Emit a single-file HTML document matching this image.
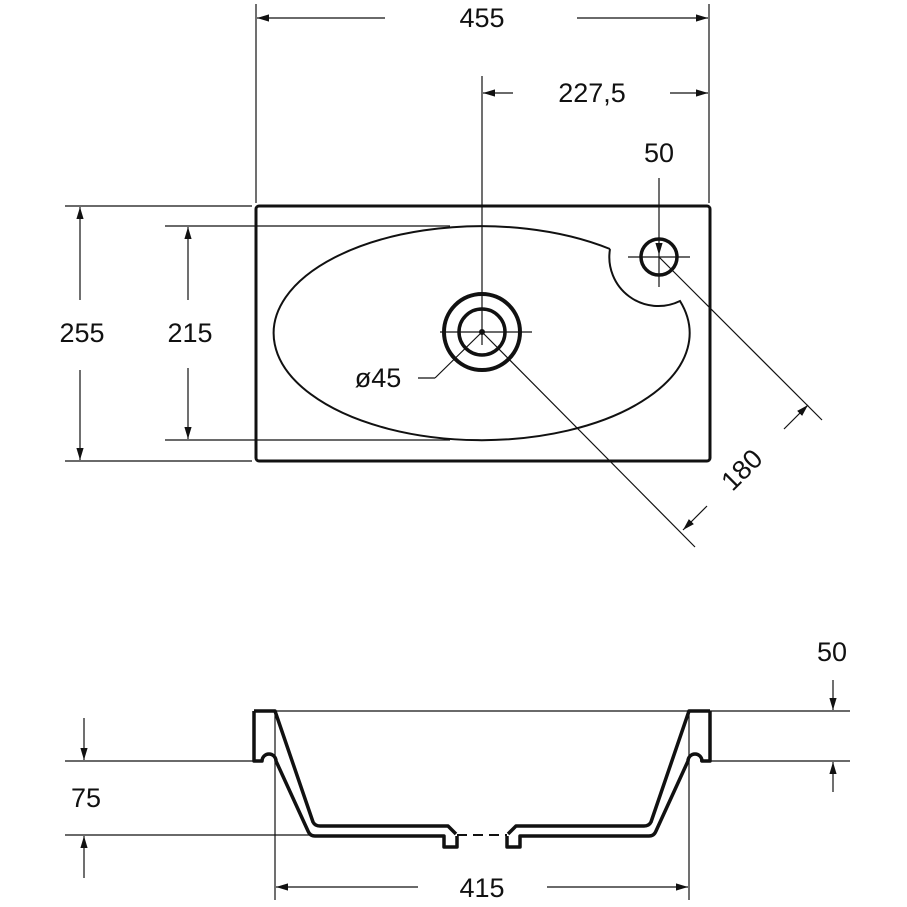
<!DOCTYPE html>
<html><head><style>body{margin:0;background:#fff}svg{display:block}text{font-family:"Liberation Sans",sans-serif;font-size:27px;fill:#111}</style></head><body>
<svg width="907" height="907" viewBox="0 0 907 907">
<defs><marker id="a" viewBox="0 0 10 10" refX="10" refY="5" markerWidth="12" markerHeight="12" markerUnits="userSpaceOnUse" orient="auto"><path d="M0,2 L10,5 L0,8z" fill="#111"/></marker></defs>
<g stroke="#111" stroke-width="1.2" fill="none">
<line x1="256" y1="4" x2="256" y2="203"/><line x1="709" y1="4" x2="709" y2="203"/>
<line x1="385" y1="18" x2="257" y2="18" marker-end="url(#a)"/><line x1="577" y1="18" x2="708" y2="18" marker-end="url(#a)"/>
<line x1="482" y1="76" x2="482" y2="345"/>
<line x1="513" y1="93" x2="483" y2="93" marker-end="url(#a)"/><line x1="670" y1="93" x2="708" y2="93" marker-end="url(#a)"/>
<line x1="659" y1="178" x2="659" y2="255" marker-end="url(#a)"/>
<line x1="659" y1="255" x2="659" y2="287"/>
<line x1="628" y1="257" x2="690" y2="257"/>
<line x1="65" y1="206" x2="252" y2="206"/><line x1="65" y1="461" x2="252" y2="461"/>
<line x1="80" y1="300" x2="80" y2="207" marker-end="url(#a)"/><line x1="80" y1="370" x2="80" y2="460" marker-end="url(#a)"/>
<line x1="165" y1="226" x2="450" y2="226"/><line x1="165" y1="440" x2="450" y2="440"/>
<line x1="188" y1="300" x2="188" y2="227" marker-end="url(#a)"/><line x1="188" y1="368" x2="188" y2="439" marker-end="url(#a)"/>
<line x1="440" y1="332" x2="532" y2="332"/>
<line x1="482" y1="332" x2="695" y2="547"/><line x1="659" y1="257" x2="822" y2="420"/>
<line x1="482" y1="332" x2="435" y2="378"/><line x1="435" y1="378" x2="418" y2="378"/>
<line x1="784" y1="429" x2="808" y2="405" marker-end="url(#a)"/>
<line x1="707" y1="506" x2="683" y2="530" marker-end="url(#a)"/>
<line x1="710" y1="711" x2="850" y2="711"/><line x1="700" y1="761" x2="850" y2="761"/>
<line x1="833" y1="680" x2="833" y2="710" marker-end="url(#a)"/><line x1="833" y1="792" x2="833" y2="762" marker-end="url(#a)"/>
<line x1="65" y1="761" x2="262" y2="761"/><line x1="65" y1="835" x2="310" y2="835"/>
<line x1="84" y1="718" x2="84" y2="760" marker-end="url(#a)"/><line x1="84" y1="878" x2="84" y2="836" marker-end="url(#a)"/>
<line x1="275" y1="711" x2="275" y2="900"/><line x1="689" y1="711" x2="689" y2="900"/>
<line x1="418" y1="887" x2="276" y2="887" marker-end="url(#a)"/><line x1="547" y1="887" x2="688" y2="887" marker-end="url(#a)"/>
<line x1="275" y1="711" x2="689" y2="711"/>
</g>
<g stroke="#111" fill="none">
<rect x="256" y="206" width="454" height="255" rx="3" stroke-width="3"/>
<path d="M610,249 A208,107 0 1 0 680,301 A49,49 0 0 1 610,249" stroke-width="2"/>
<circle cx="482" cy="332" r="38" stroke-width="4"/><circle cx="482" cy="332" r="23" stroke-width="3.5"/>
<circle cx="659" cy="257" r="18" stroke-width="3.5"/>
<path d="M254,711 H275 L313,822 Q315,826 320,826 L448,826 L456,834 M254,711 V761 H262 A7,7 0 0 1 276,761 L308,831 Q310,836 315,836 L444,836 V847 H457 V836" stroke-width="3.5" stroke-linejoin="round"/>
<path d="M710,711 H689 L651,822 Q649,826 644,826 L516,826 L508,834 M710,711 V761 H702 A7,7 0 0 0 688,761 L656,831 Q654,836 649,836 L520,836 V847 H507 V836" stroke-width="3.5" stroke-linejoin="round"/>
<line x1="457" y1="835" x2="507" y2="835" stroke-width="2" stroke-dasharray="10,6"/>
</g>
<circle cx="482" cy="332" r="3" fill="#111"/>
<text x="482" y="27" text-anchor="middle">455</text>
<text x="592" y="102" text-anchor="middle">227,5</text>
<text x="659" y="162" text-anchor="middle">50</text>
<text x="82" y="342" text-anchor="middle">255</text>
<text x="190" y="342" text-anchor="middle">215</text>
<text x="378" y="387" text-anchor="middle">ø45</text>
<text x="742" y="479" text-anchor="middle" transform="rotate(-45 742 470)">180</text>
<text x="832" y="661" text-anchor="middle">50</text>
<text x="86" y="807" text-anchor="middle">75</text>
<text x="482" y="897" text-anchor="middle">415</text>
</svg>
</body></html>
